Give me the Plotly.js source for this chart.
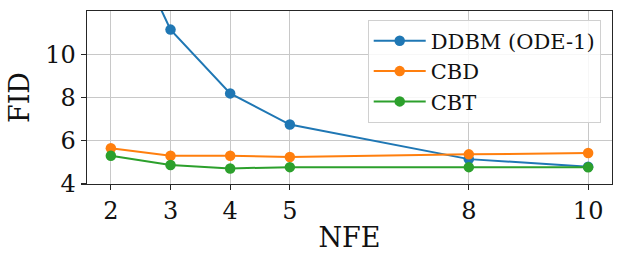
<!DOCTYPE html>
<html><head><meta charset="utf-8">
<script src="https://cdn.plot.ly/plotly-3.0.1.min.js"></script>
<style>html,body{margin:0;padding:0;background:#fff}#chart{width:623px;height:265px}</style>
</head><body><div id="chart"></div>
<script>
const nfe = [2, 3, 4, 5, 8, 10];
const ddbm = [17.0, 11.14, 8.19, 6.75, 5.15, 4.80];
const cbd = [5.65, 5.31, 5.31, 5.25, 5.37, 5.43];
const cbt = [5.31, 4.88, 4.72, 4.78, 4.78, 4.77];
const seriesNames = ['DDBM (ODE-1)', 'CBD', 'CBT'];
const colors = ['#1f77b4', '#ff7f0e', '#2ca02c'];
const yTicks = [4, 6, 8, 10];

const font = 'DejaVu Serif, serif';
const traces = [ddbm, cbd, cbt].map((ys, i) => ({
  x: nfe, y: ys, name: seriesNames[i], type: 'scatter', mode: 'lines+markers',
  line: {color: colors[i], width: 2},
  marker: {color: colors[i], size: 10.5},
  cliponaxis: true
}));

const axisCommon = {
  showline: true, mirror: true, linecolor: '#262626', linewidth: 1.3,
  showgrid: true, gridcolor: '#c8c8c8', gridwidth: 1,
  ticks: 'outside', ticklen: 5, tickwidth: 1.2, tickcolor: '#262626',
  zeroline: false, tickfont: {family: font, size: 24, color: '#111'}
};

const layout = {
  width: 623, height: 265,
  margin: {l: 87, r: 11, t: 11, b: 81},
  paper_bgcolor: '#fff', plot_bgcolor: '#fff',
  font: {family: font},
  xaxis: Object.assign({}, axisCommon, {
    range: [1.6, 10.4], tickvals: nfe, ticktext: nfe.map(String),
    title: {text: 'NFE', font: {family: font, size: 27, color: '#111'}, standoff: 4}
  }),
  yaxis: Object.assign({}, axisCommon, {
    range: [4, 12], tickvals: yTicks, ticktext: yTicks.map(String),
    title: {text: 'FID', font: {family: font, size: 27, color: '#111'}, standoff: 8}
  }),
  legend: {
    x: 0.9785, y: 0.95, xanchor: 'right', yanchor: 'top',
    bgcolor: 'rgba(255,255,255,0.85)', bordercolor: '#d0d0d0', borderwidth: 1,
    font: {family: font, size: 21, color: '#111'},
    tracegroupgap: 0, itemwidth: 52
  },
  showlegend: true
};

Plotly.newPlot('chart', traces, layout, {staticPlot: true, displayModeBar: false});
</script>
</body></html>
